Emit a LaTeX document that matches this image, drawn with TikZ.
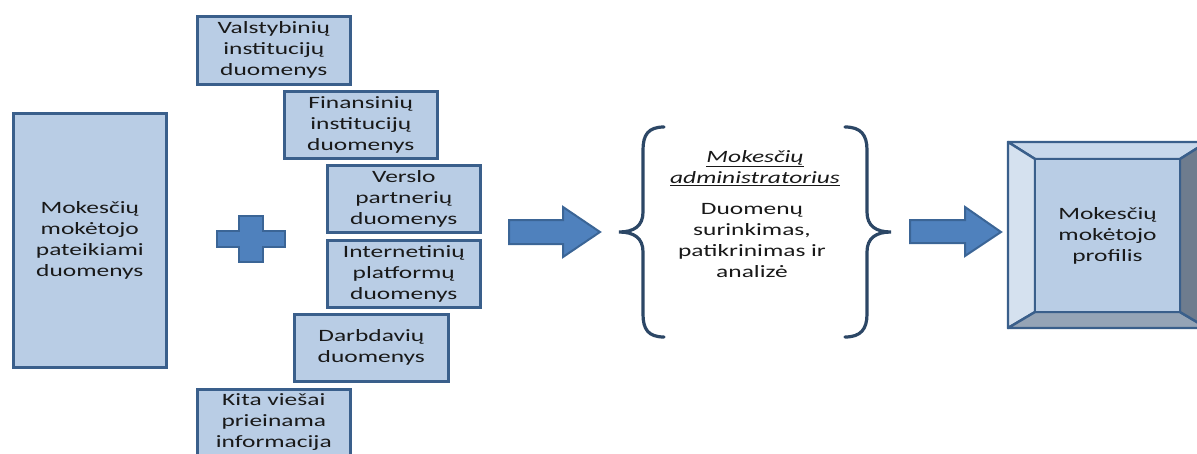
\documentclass[tikz,border=0pt]{standalone}
\usepackage{fontspec}
\setmainfont{Carlito}[FakeStretch=1.47]
\definecolor{boxfill}{HTML}{B9CDE5}
\definecolor{boxline}{HTML}{3A5F8B}
\definecolor{arrowfill}{HTML}{4F81BD}
\definecolor{arrowline}{HTML}{3B6596}
\definecolor{bevtop}{HTML}{C8D8EB}
\definecolor{bevleft}{HTML}{D5E1EF}
\definecolor{bevbottom}{HTML}{95A4B6}
\definecolor{bevright}{HTML}{6E7C8E}
\definecolor{bracecol}{HTML}{2C4766}
\begin{document}
\begin{tikzpicture}[x=1pt,y=-1pt,
  txt/.style={font=\fontsize{17.3}{21}\selectfont, align=center, text=black!90},
  srcbox/.style={txt, draw=boxline, fill=boxfill, line width=2.6pt, inner sep=0pt,
    anchor=north west, minimum width=153pt},
  blockarrow/.style={fill=arrowfill, draw=arrowline, line width=2pt, line join=miter},
  bracestyle/.style={draw=bracecol, line width=3.2pt, line cap=round},
  bevel/.style={draw=boxline, line width=2.4pt, line join=round}]
\useasboundingbox (0,0) rectangle (1197,453);
\clip (0,0) rectangle (1197,453);

% taxpayer's own data
\node[srcbox, minimum height=254pt] (own) at (12,112)
  {Mokesčių\\mokėtojo\\pateikiami\\duomenys};

% plus sign
\draw[blockarrow] (239,216) -- (263,216) -- (263,231) -- (285,231) -- (285,247)
  -- (263,247) -- (263,262) -- (239,262) -- (239,247) -- (217,247) -- (217,231)
  -- (239,231) -- cycle;

% third-party data sources
\node[srcbox, minimum height=68pt] (state) at (196,15)
  {Valstybinių\\institucijų\\duomenys};
\node[srcbox, minimum height=67pt] (fin) at (283,90)
  {Finansinių\\institucijų\\duomenys};
\node[srcbox, minimum height=67pt] (biz) at (326,164)
  {Verslo\\partnerių\\duomenys};
\node[srcbox, minimum height=67pt] (web) at (326,239)
  {Internetinių\\platformų\\duomenys};
\node[srcbox, minimum height=67pt, minimum width=154pt] (emp) at (293,313)
  {Darbdavių\\duomenys};
\node[srcbox, minimum height=66pt] (other) at (196,388)
  {Kita viešai\\prieinama\\informacija};

% arrow into the administrator
\draw[blockarrow] (509,220) -- (563,220) -- (563,207) -- (600,232) -- (563,257)
  -- (563,244) -- (509,244) -- cycle;

% braces around the administrator
\draw[bracestyle] (664,127) .. controls (648,127) and (643,135) .. (643,150)
  -- (643,212) .. controls (643,226) and (634,232) .. (619,232)
  .. controls (634,232) and (643,238) .. (643,252)
  -- (643,314) .. controls (643,329) and (648,337) .. (664,337);
\draw[bracestyle] (845,127) .. controls (861,127) and (867,135) .. (867,150)
  -- (867,212) .. controls (867,226) and (876,232) .. (891,232)
  .. controls (876,232) and (867,238) .. (867,252)
  -- (867,314) .. controls (867,329) and (861,337) .. (845,337);

\node[txt] (admin) at (755,168)
  {\itshape\underline{Mokesčių}\\\itshape\underline{administratorius}};
\node[txt] (tasks) at (752,241)
  {Duomenų\\surinkimas,\\patikrinimas ir\\analizė};

% arrow into the profile
\draw[blockarrow] (910,220) -- (965,220) -- (965,207) -- (1001,232) -- (965,256)
  -- (965,243) -- (910,243) -- cycle;

% bevelled profile box
\filldraw[bevel, fill=bevtop] (1008,142) -- (1207,142) -- (1180,159) -- (1035,159) -- cycle;
\filldraw[bevel, fill=bevleft] (1008,142) -- (1035,159) -- (1035,312) -- (1008,328) -- cycle;
\filldraw[bevel, fill=bevbottom] (1008,328) -- (1035,312) -- (1180,312) -- (1207,328) -- cycle;
\filldraw[bevel, fill=bevright] (1207,142) -- (1180,159) -- (1180,312) -- (1207,328) -- cycle;
\node[txt, draw=boxline, fill=boxfill, line width=2.4pt, inner sep=0pt,
  minimum width=145pt, minimum height=153pt] (profile) at (1107.5,235.5)
  {Mokesčių\\mokėtojo\\profilis};
\end{tikzpicture}
\end{document}
